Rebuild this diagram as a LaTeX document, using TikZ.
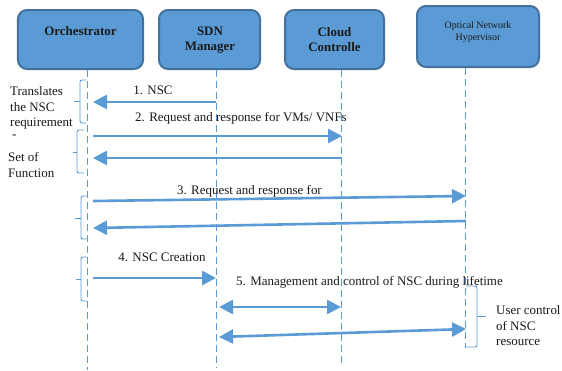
\documentclass[tikz,border=0pt]{standalone}
\usepackage{fontspec}
\setmainfont{Liberation Serif}
\usetikzlibrary{arrows.meta}
\definecolor{boxfill}{HTML}{5B9BD5}
\definecolor{boxedge}{HTML}{41719C}
\definecolor{arr}{HTML}{5B9BD5}
\definecolor{txt}{HTML}{1A1A1A}
\begin{document}
\begin{tikzpicture}[x=1bp,y=-1bp,
  box/.style={draw=boxedge, line width=2bp, fill=boxfill, rounded corners=9bp, inner sep=0pt},
  boxlabel/.style={text=txt, inner sep=0pt, align=center, font=\bfseries\fontsize{13}{15.5}\selectfont},
  smalllabel/.style={text=txt, inner sep=0pt, align=center, font=\fontsize{10}{12}\selectfont},
  life/.style={draw=arr, line width=1bp, dash pattern=on 7bp off 4bp},
  msg/.style={draw=arr, line width=2.6bp, -{Triangle[length=14bp,width=14bp]}},
  dmsg/.style={draw=arr, line width=2.6bp, {Triangle[length=14bp,width=14bp]}-{Triangle[length=14bp,width=14bp]}},
  lbl/.style={text=txt, inner sep=0pt, font=\fontsize{13}{15}\selectfont},
  side/.style={text=txt, inner sep=0pt, align=left, anchor=west, font=\fontsize{13}{15.5}\selectfont},
  brace/.style={draw=arr, line width=0.9bp, rounded corners=2bp}
]
\useasboundingbox (0,0) rectangle (562,370);
\fill[white] (0,0) rectangle (562,370);

% boxes
\node[box, minimum width=125bp, minimum height=59bp] (orch) at (80.5,39.5) {};
\node[box, minimum width=101bp, minimum height=59bp] (sdn) at (209.5,39.5) {};
\node[box, minimum width=99bp, minimum height=59bp] (cloud) at (334.5,39.5) {};
\node[box, minimum width=122bp, minimum height=61bp] (hyp) at (478,36.5) {};

\node[boxlabel] (orchT) at (80.5,31) {Orchestrator};
\node[boxlabel] (sdnT) at (210,40) {SDN\\Manager};
\node[boxlabel] (cloudT) at (334.5,39.5) {Cloud\\Controlle};
\node[smalllabel] (hypT) at (478,32) {Optical Network\\Hypervisor};

% lifelines
\coordinate (orchEnd) at (87,370);
\coordinate (sdnEnd) at (216,368);
\coordinate (cloudEnd) at (341.5,364);
\coordinate (hypEnd) at (465.5,348);
\draw[life] (orchEnd |- orch.south) -- (orchEnd);
\draw[life] (sdnEnd |- sdn.south) -- (sdnEnd);
\draw[life] (cloudEnd |- cloud.south) -- (cloudEnd);
\draw[life] (hypEnd |- hyp.south) -- (hypEnd);

% message endpoints
\coordinate (m1s) at (216,102);   \coordinate (m1e) at (93,102);
\coordinate (m2s) at (93,136);    \coordinate (m2e) at (342,136);
\coordinate (m2bs) at (342,158);  \coordinate (m2be) at (93,158);
\coordinate (m3s) at (93,201);    \coordinate (m3e) at (466,196);
\coordinate (m3bs) at (466,221);  \coordinate (m3be) at (93,228);
\coordinate (m4s) at (93,278);    \coordinate (m4e) at (216,278);
\coordinate (m5s) at (219,307);   \coordinate (m5e) at (341,307);
\coordinate (m5bs) at (219,337);  \coordinate (m5be) at (466,329);

\draw[msg] (m1s) -- (m1e);
\draw[msg] (m2s) -- (m2e);
\draw[msg] (m2bs) -- (m2be);
\draw[msg] (m3s) -- (m3e);
\draw[msg] (m3bs) -- (m3be);
\draw[msg] (m4s) -- (m4e);
\draw[dmsg] (m5s) -- (m5e);
\draw[dmsg] (m5bs) -- (m5be);

% message labels
\node[lbl] (l1) at (153,90) {1. NSC};
\node[lbl] (l2) at (241,118) {2. Request and response for VMs/ VNFs};
\node[lbl] (l3) at (249.5,191) {3. Request and response for};
\node[lbl] (l4) at (162,257) {4. NSC Creation};
\node[lbl] (l5) at (369.5,282) {5. Management and control of NSC during lifetime};

% brackets
\draw[brace] (86,80) -- (80,80) -- (80,123) -- (86,123);
\draw[brace] (80,101) -- (74,101);
\draw[brace] (84,130) -- (77,130) -- (77,173) -- (84,173);
\draw[brace] (77,152) -- (73,152);
\draw[brace] (87,196) -- (81,196) -- (81,239) -- (87,239);
\draw[brace] (81,218) -- (75,218);
\draw[brace] (87,257) -- (81,257) -- (81,301) -- (87,301);
\draw[brace] (81,279) -- (76,279);
\draw[brace] (466,286) -- (477,286) -- (477,347) -- (466,347);
\draw[brace] (477,316) -- (486,316);

% side texts
\node[side] (s1) at (10,108) {Translates\\the NSC\\requirement};
\node[side] (s1b) at (12,137) {-};
\node[side] (s2) at (8,165) {Set of\\Function};
\node[side] (s3) at (496,326) {User control\\of NSC\\resource};
\end{tikzpicture}
\end{document}
